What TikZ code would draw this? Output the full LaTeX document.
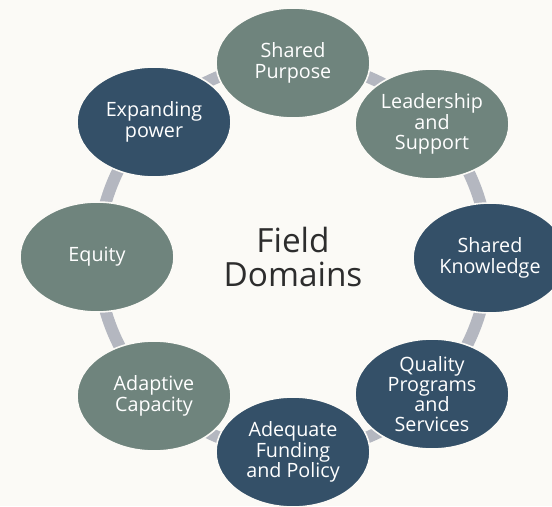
\documentclass[tikz,border=0pt]{standalone}
\usepackage{fontspec}
\setmainfont{Open Sans}
\usetikzlibrary{shapes.geometric}

\definecolor{paper}{RGB}{251,250,246}
\definecolor{ringgray}{RGB}{180,183,192}
\definecolor{sage}{RGB}{111,132,125}
\definecolor{navy}{RGB}{52,80,104}
\definecolor{ink}{RGB}{45,45,45}

\tikzset{every picture/.style={line width=0.75pt}}
\tikzset{
  fieldoval/.style={ellipse, draw=paper, line width=1.2pt, minimum width=115.5pt, minimum height=82.5pt,
    inner sep=0pt, align=center, text=white, font=\fontsize{14.8}{15.2}\selectfont},
  sageoval/.style={fieldoval, fill=sage},
  navyoval/.style={fieldoval, fill=navy}
}

\begin{document}
\begin{tikzpicture}[x=0.75pt,y=0.75pt,yscale=-1,xscale=1]
		%set diagram left start at 0, and has height of 506
		\fill [paper] (0,0) rectangle (552,506);
		\useasboundingbox (0,0) rectangle (552,506);
		
		%Shape: Circle (ring)
		\coordinate (hub) at (293,257);
		\draw [ringgray, line width=9pt] (hub) circle (195);
		
		%Shape: Ellipses
		\node [sageoval] (purpose) at (293,63) {Shared\\Purpose};
		\node [sageoval] (leadership) at (432,124) {Leadership\\and\\Support};
		\node [navyoval] (knowledge) at (490,258) {Shared\\Knowledge};
		\node [navyoval] (quality) at (432,394) {Quality\\Programs\\and\\Services};
		\node [navyoval] (funding) at (293,452) {Adequate\\Funding\\and Policy};
		\node [sageoval] (adaptive) at (154,396) {Adaptive\\Capacity};
		\node [sageoval] (equity) at (97,257) {Equity};
		\node [navyoval] (power) at (154,122) {Expanding\\power};
		
		\node [text=ink, align=center, font=\fontsize{25}{26}\selectfont] (title) at (hub) {Field\\Domains};
		
\end{tikzpicture}
\end{document}
